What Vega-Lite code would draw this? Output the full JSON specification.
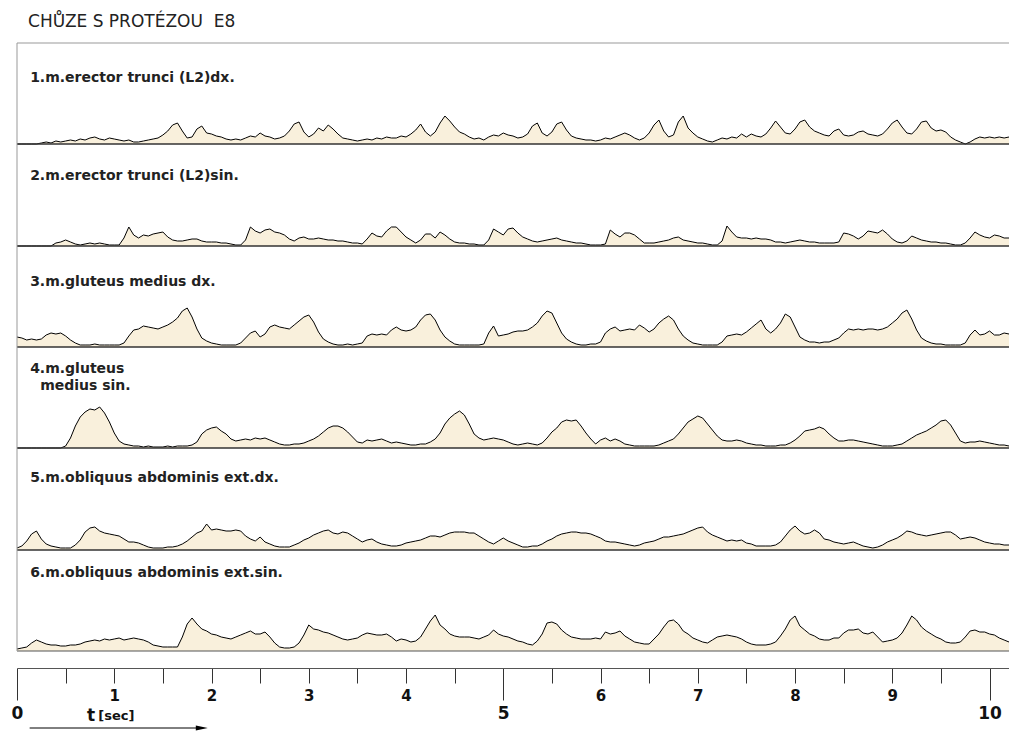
{
  "$schema": "https://vega.github.io/schema/vega-lite/v6.json",
  "background": "white",
  "padding": {"left": 11, "top": 12, "right": 0, "bottom": 0},
  "bounds": "flush",
  "title": {"text": "CHŮZE S PROTÉZOU\u00a0\u00a0E8", "anchor": "start", "dx": 17, "offset": -1, "baseline": "alphabetic", "font": "DejaVu Sans", "fontSize": 17, "fontWeight": "normal", "color": "#222"},
  "data": {"values": [
{"t":0,"a":0,"b":0,"c":10,"d":0,"e":2,"f":2},
{"t":0.05,"a":0,"b":0,"c":9,"d":0,"e":4,"f":3},
{"t":0.1,"a":0,"b":0,"c":7,"d":0,"e":9,"f":4},
{"t":0.15,"a":0,"b":0,"c":8,"d":0,"e":16,"f":8},
{"t":0.2,"a":0,"b":0,"c":7,"d":0,"e":19,"f":11},
{"t":0.25,"a":1,"b":0,"c":8,"d":0,"e":11,"f":9},
{"t":0.3,"a":2,"b":0,"c":12,"d":0,"e":6,"f":7},
{"t":0.35,"a":1,"b":0,"c":14,"d":0,"e":4,"f":6},
{"t":0.4,"a":3,"b":3,"c":13,"d":0,"e":3,"f":6},
{"t":0.45,"a":2,"b":4,"c":14,"d":0,"e":2,"f":5},
{"t":0.5,"a":3,"b":6,"c":11,"d":2,"e":2,"f":5},
{"t":0.55,"a":4,"b":4,"c":7,"d":10,"e":2,"f":6},
{"t":0.6,"a":3,"b":2,"c":4,"d":22,"e":5,"f":6},
{"t":0.65,"a":5,"b":1,"c":2,"d":31,"e":10,"f":7},
{"t":0.7,"a":4,"b":2,"c":2,"d":36,"e":18,"f":9},
{"t":0.75,"a":6,"b":3,"c":2,"d":39,"e":22,"f":10},
{"t":0.8,"a":7,"b":2,"c":3,"d":38,"e":23,"f":11},
{"t":0.85,"a":5,"b":3,"c":2,"d":41,"e":19,"f":10},
{"t":0.9,"a":4,"b":2,"c":2,"d":35,"e":17,"f":12},
{"t":0.95,"a":6,"b":1,"c":2,"d":26,"e":16,"f":11},
{"t":1,"a":5,"b":1,"c":2,"d":15,"e":15,"f":12},
{"t":1.05,"a":4,"b":1,"c":2,"d":7,"e":14,"f":13},
{"t":1.1,"a":3,"b":8,"c":4,"d":4,"e":11,"f":11},
{"t":1.15,"a":4,"b":19,"c":11,"d":3,"e":8,"f":12},
{"t":1.2,"a":2,"b":11,"c":17,"d":2,"e":8,"f":13},
{"t":1.25,"a":2,"b":8,"c":18,"d":2,"e":7,"f":12},
{"t":1.3,"a":3,"b":11,"c":21,"d":1,"e":5,"f":11},
{"t":1.35,"a":4,"b":10,"c":20,"d":2,"e":3,"f":9},
{"t":1.4,"a":5,"b":12,"c":19,"d":1,"e":2,"f":6},
{"t":1.45,"a":6,"b":13,"c":18,"d":1,"e":2,"f":5},
{"t":1.5,"a":9,"b":14,"c":20,"d":1,"e":2,"f":4},
{"t":1.55,"a":13,"b":9,"c":22,"d":2,"e":3,"f":4},
{"t":1.6,"a":19,"b":6,"c":25,"d":1,"e":3,"f":4},
{"t":1.65,"a":21,"b":5,"c":29,"d":2,"e":4,"f":4},
{"t":1.7,"a":13,"b":5,"c":36,"d":2,"e":6,"f":14},
{"t":1.75,"a":6,"b":6,"c":39,"d":2,"e":9,"f":27},
{"t":1.8,"a":7,"b":7,"c":30,"d":3,"e":13,"f":33},
{"t":1.85,"a":15,"b":7,"c":18,"d":6,"e":17,"f":27},
{"t":1.9,"a":18,"b":5,"c":9,"d":14,"e":19,"f":22},
{"t":1.95,"a":11,"b":4,"c":6,"d":18,"e":26,"f":20},
{"t":2,"a":10,"b":4,"c":4,"d":20,"e":20,"f":17},
{"t":2.05,"a":8,"b":4,"c":3,"d":21,"e":21,"f":16},
{"t":2.1,"a":7,"b":3,"c":2,"d":17,"e":20,"f":14},
{"t":2.15,"a":5,"b":3,"c":2,"d":14,"e":19,"f":13},
{"t":2.2,"a":4,"b":2,"c":2,"d":9,"e":19,"f":12},
{"t":2.25,"a":5,"b":1,"c":2,"d":7,"e":20,"f":14},
{"t":2.3,"a":4,"b":1,"c":4,"d":8,"e":19,"f":16},
{"t":2.35,"a":6,"b":6,"c":9,"d":9,"e":14,"f":18},
{"t":2.4,"a":8,"b":19,"c":14,"d":8,"e":11,"f":20},
{"t":2.45,"a":7,"b":15,"c":16,"d":10,"e":9,"f":17},
{"t":2.5,"a":11,"b":13,"c":10,"d":9,"e":13,"f":17},
{"t":2.55,"a":8,"b":16,"c":13,"d":10,"e":8,"f":19},
{"t":2.6,"a":7,"b":17,"c":20,"d":8,"e":6,"f":14},
{"t":2.65,"a":5,"b":14,"c":22,"d":6,"e":4,"f":8},
{"t":2.7,"a":6,"b":13,"c":20,"d":4,"e":3,"f":4},
{"t":2.75,"a":8,"b":11,"c":19,"d":3,"e":3,"f":3},
{"t":2.8,"a":13,"b":7,"c":18,"d":3,"e":3,"f":3},
{"t":2.85,"a":20,"b":5,"c":22,"d":4,"e":5,"f":4},
{"t":2.9,"a":22,"b":8,"c":26,"d":4,"e":7,"f":8},
{"t":2.95,"a":12,"b":9,"c":30,"d":5,"e":10,"f":16},
{"t":3,"a":7,"b":7,"c":32,"d":7,"e":12,"f":26},
{"t":3.05,"a":10,"b":7,"c":25,"d":9,"e":15,"f":22},
{"t":3.1,"a":16,"b":8,"c":15,"d":12,"e":17,"f":21},
{"t":3.15,"a":13,"b":7,"c":8,"d":16,"e":19,"f":19},
{"t":3.2,"a":19,"b":6,"c":5,"d":20,"e":20,"f":18},
{"t":3.25,"a":15,"b":6,"c":3,"d":22,"e":17,"f":16},
{"t":3.3,"a":10,"b":5,"c":2,"d":22,"e":16,"f":14},
{"t":3.35,"a":6,"b":5,"c":2,"d":20,"e":18,"f":12},
{"t":3.4,"a":5,"b":4,"c":3,"d":16,"e":17,"f":11},
{"t":3.45,"a":4,"b":3,"c":2,"d":11,"e":14,"f":12},
{"t":3.5,"a":3,"b":3,"c":3,"d":6,"e":11,"f":13},
{"t":3.55,"a":4,"b":2,"c":4,"d":5,"e":8,"f":16},
{"t":3.6,"a":5,"b":7,"c":11,"d":8,"e":10,"f":18},
{"t":3.65,"a":4,"b":13,"c":13,"d":7,"e":11,"f":17},
{"t":3.7,"a":6,"b":10,"c":12,"d":8,"e":8,"f":16},
{"t":3.75,"a":5,"b":9,"c":13,"d":9,"e":6,"f":16},
{"t":3.8,"a":7,"b":15,"c":12,"d":7,"e":5,"f":17},
{"t":3.85,"a":6,"b":19,"c":17,"d":5,"e":4,"f":14},
{"t":3.9,"a":6,"b":19,"c":20,"d":6,"e":4,"f":10},
{"t":3.95,"a":8,"b":14,"c":17,"d":5,"e":5,"f":12},
{"t":4,"a":7,"b":9,"c":16,"d":4,"e":7,"f":11},
{"t":4.05,"a":10,"b":6,"c":17,"d":3,"e":8,"f":9},
{"t":4.1,"a":14,"b":3,"c":20,"d":3,"e":9,"f":10},
{"t":4.15,"a":20,"b":6,"c":27,"d":4,"e":10,"f":14},
{"t":4.2,"a":12,"b":12,"c":32,"d":4,"e":12,"f":22},
{"t":4.25,"a":8,"b":12,"c":33,"d":6,"e":14,"f":30},
{"t":4.3,"a":12,"b":8,"c":27,"d":9,"e":14,"f":36},
{"t":4.35,"a":21,"b":14,"c":17,"d":15,"e":13,"f":26},
{"t":4.4,"a":28,"b":11,"c":10,"d":24,"e":15,"f":22},
{"t":4.45,"a":23,"b":7,"c":6,"d":30,"e":17,"f":17},
{"t":4.5,"a":17,"b":4,"c":3,"d":34,"e":18,"f":15},
{"t":4.55,"a":12,"b":3,"c":2,"d":37,"e":18,"f":14},
{"t":4.6,"a":10,"b":3,"c":2,"d":33,"e":18,"f":14},
{"t":4.65,"a":7,"b":2,"c":2,"d":24,"e":17,"f":14},
{"t":4.7,"a":5,"b":2,"c":2,"d":14,"e":17,"f":13},
{"t":4.75,"a":6,"b":1,"c":2,"d":10,"e":14,"f":12},
{"t":4.8,"a":4,"b":1,"c":3,"d":8,"e":11,"f":14},
{"t":4.85,"a":7,"b":6,"c":14,"d":9,"e":8,"f":16},
{"t":4.9,"a":9,"b":17,"c":21,"d":10,"e":6,"f":21},
{"t":4.95,"a":8,"b":14,"c":11,"d":9,"e":9,"f":17},
{"t":5,"a":11,"b":11,"c":12,"d":8,"e":12,"f":15},
{"t":5.05,"a":9,"b":17,"c":13,"d":6,"e":9,"f":14},
{"t":5.1,"a":8,"b":18,"c":15,"d":4,"e":7,"f":12},
{"t":5.15,"a":6,"b":13,"c":16,"d":3,"e":5,"f":10},
{"t":5.2,"a":7,"b":9,"c":16,"d":4,"e":3,"f":9},
{"t":5.25,"a":10,"b":7,"c":17,"d":5,"e":3,"f":7},
{"t":5.3,"a":18,"b":5,"c":20,"d":4,"e":4,"f":6},
{"t":5.35,"a":21,"b":4,"c":24,"d":3,"e":4,"f":10},
{"t":5.4,"a":11,"b":5,"c":31,"d":5,"e":6,"f":17},
{"t":5.45,"a":8,"b":6,"c":36,"d":10,"e":9,"f":28},
{"t":5.5,"a":12,"b":7,"c":34,"d":16,"e":11,"f":29},
{"t":5.55,"a":20,"b":8,"c":24,"d":20,"e":14,"f":27},
{"t":5.6,"a":22,"b":6,"c":14,"d":26,"e":16,"f":21},
{"t":5.65,"a":14,"b":5,"c":8,"d":28,"e":17,"f":17},
{"t":5.7,"a":8,"b":4,"c":5,"d":27,"e":18,"f":14},
{"t":5.75,"a":6,"b":3,"c":3,"d":28,"e":18,"f":13},
{"t":5.8,"a":5,"b":3,"c":2,"d":22,"e":17,"f":12},
{"t":5.85,"a":4,"b":2,"c":2,"d":15,"e":17,"f":12},
{"t":5.9,"a":4,"b":1,"c":3,"d":9,"e":16,"f":12},
{"t":5.95,"a":3,"b":1,"c":3,"d":4,"e":14,"f":13},
{"t":6,"a":4,"b":1,"c":5,"d":8,"e":12,"f":12},
{"t":6.05,"a":6,"b":2,"c":14,"d":10,"e":9,"f":19},
{"t":6.1,"a":5,"b":16,"c":18,"d":7,"e":8,"f":17},
{"t":6.15,"a":7,"b":12,"c":20,"d":9,"e":8,"f":18},
{"t":6.2,"a":9,"b":9,"c":16,"d":7,"e":7,"f":20},
{"t":6.25,"a":11,"b":13,"c":17,"d":4,"e":6,"f":15},
{"t":6.3,"a":9,"b":13,"c":18,"d":3,"e":5,"f":12},
{"t":6.35,"a":6,"b":11,"c":17,"d":2,"e":4,"f":9},
{"t":6.4,"a":4,"b":7,"c":22,"d":2,"e":5,"f":8},
{"t":6.45,"a":6,"b":3,"c":19,"d":2,"e":7,"f":7},
{"t":6.5,"a":11,"b":3,"c":15,"d":2,"e":8,"f":7},
{"t":6.55,"a":19,"b":3,"c":18,"d":2,"e":9,"f":12},
{"t":6.6,"a":24,"b":4,"c":24,"d":3,"e":11,"f":17},
{"t":6.65,"a":13,"b":5,"c":28,"d":5,"e":13,"f":24},
{"t":6.7,"a":7,"b":6,"c":31,"d":7,"e":13,"f":30},
{"t":6.75,"a":9,"b":8,"c":27,"d":9,"e":14,"f":31},
{"t":6.8,"a":22,"b":9,"c":18,"d":14,"e":15,"f":27},
{"t":6.85,"a":28,"b":6,"c":11,"d":20,"e":16,"f":20},
{"t":6.9,"a":16,"b":5,"c":7,"d":26,"e":18,"f":17},
{"t":6.95,"a":11,"b":4,"c":4,"d":29,"e":20,"f":13},
{"t":7,"a":7,"b":3,"c":3,"d":32,"e":22,"f":11},
{"t":7.05,"a":5,"b":3,"c":2,"d":30,"e":23,"f":9},
{"t":7.1,"a":3,"b":2,"c":2,"d":24,"e":18,"f":8},
{"t":7.15,"a":2,"b":1,"c":2,"d":18,"e":15,"f":11},
{"t":7.2,"a":4,"b":1,"c":2,"d":12,"e":13,"f":14},
{"t":7.25,"a":6,"b":5,"c":5,"d":8,"e":11,"f":15},
{"t":7.3,"a":5,"b":20,"c":11,"d":7,"e":9,"f":16},
{"t":7.35,"a":7,"b":14,"c":12,"d":7,"e":10,"f":15},
{"t":7.4,"a":6,"b":9,"c":13,"d":8,"e":9,"f":14},
{"t":7.45,"a":10,"b":8,"c":12,"d":7,"e":10,"f":12},
{"t":7.5,"a":7,"b":8,"c":15,"d":5,"e":7,"f":9},
{"t":7.55,"a":10,"b":7,"c":19,"d":4,"e":6,"f":7},
{"t":7.6,"a":8,"b":8,"c":23,"d":3,"e":4,"f":6},
{"t":7.65,"a":7,"b":7,"c":27,"d":3,"e":4,"f":6},
{"t":7.7,"a":10,"b":7,"c":18,"d":2,"e":4,"f":6},
{"t":7.75,"a":16,"b":6,"c":14,"d":2,"e":4,"f":7},
{"t":7.8,"a":23,"b":4,"c":18,"d":2,"e":5,"f":9},
{"t":7.85,"a":17,"b":4,"c":24,"d":3,"e":8,"f":15},
{"t":7.9,"a":11,"b":3,"c":33,"d":3,"e":14,"f":22},
{"t":7.95,"a":10,"b":4,"c":30,"d":5,"e":20,"f":31},
{"t":8,"a":15,"b":5,"c":20,"d":8,"e":24,"f":35},
{"t":8.05,"a":22,"b":6,"c":10,"d":12,"e":19,"f":25},
{"t":8.1,"a":24,"b":5,"c":7,"d":17,"e":16,"f":21},
{"t":8.15,"a":17,"b":4,"c":5,"d":18,"e":17,"f":17},
{"t":8.2,"a":13,"b":4,"c":5,"d":19,"e":20,"f":15},
{"t":8.25,"a":11,"b":3,"c":4,"d":21,"e":17,"f":12},
{"t":8.3,"a":9,"b":3,"c":5,"d":19,"e":11,"f":11},
{"t":8.35,"a":8,"b":3,"c":5,"d":14,"e":10,"f":11},
{"t":8.4,"a":13,"b":3,"c":7,"d":10,"e":8,"f":13},
{"t":8.45,"a":15,"b":4,"c":9,"d":7,"e":7,"f":13},
{"t":8.5,"a":9,"b":13,"c":14,"d":7,"e":6,"f":18},
{"t":8.55,"a":8,"b":12,"c":18,"d":8,"e":7,"f":21},
{"t":8.6,"a":9,"b":10,"c":17,"d":8,"e":8,"f":21},
{"t":8.65,"a":12,"b":7,"c":18,"d":7,"e":6,"f":22},
{"t":8.7,"a":13,"b":10,"c":17,"d":6,"e":4,"f":18},
{"t":8.75,"a":10,"b":15,"c":18,"d":5,"e":3,"f":17},
{"t":8.8,"a":9,"b":14,"c":18,"d":4,"e":2,"f":19},
{"t":8.85,"a":8,"b":13,"c":17,"d":3,"e":3,"f":14},
{"t":8.9,"a":10,"b":16,"c":18,"d":2,"e":5,"f":9},
{"t":8.95,"a":15,"b":12,"c":20,"d":2,"e":8,"f":10},
{"t":9,"a":21,"b":7,"c":24,"d":2,"e":10,"f":11},
{"t":9.05,"a":24,"b":4,"c":28,"d":3,"e":12,"f":13},
{"t":9.1,"a":17,"b":3,"c":34,"d":4,"e":15,"f":18},
{"t":9.15,"a":11,"b":5,"c":37,"d":7,"e":19,"f":26},
{"t":9.2,"a":10,"b":10,"c":28,"d":10,"e":18,"f":35},
{"t":9.25,"a":15,"b":8,"c":17,"d":13,"e":16,"f":31},
{"t":9.3,"a":22,"b":6,"c":9,"d":15,"e":15,"f":24},
{"t":9.35,"a":23,"b":5,"c":6,"d":17,"e":14,"f":20},
{"t":9.4,"a":16,"b":4,"c":4,"d":20,"e":15,"f":17},
{"t":9.45,"a":13,"b":4,"c":3,"d":23,"e":16,"f":14},
{"t":9.5,"a":14,"b":3,"c":3,"d":27,"e":17,"f":12},
{"t":9.55,"a":12,"b":3,"c":2,"d":28,"e":18,"f":9},
{"t":9.6,"a":7,"b":2,"c":2,"d":23,"e":18,"f":8},
{"t":9.65,"a":4,"b":1,"c":2,"d":15,"e":15,"f":8},
{"t":9.7,"a":2,"b":1,"c":2,"d":7,"e":11,"f":9},
{"t":9.75,"a":0,"b":3,"c":4,"d":5,"e":12,"f":14},
{"t":9.8,"a":2,"b":8,"c":12,"d":6,"e":13,"f":20},
{"t":9.85,"a":5,"b":14,"c":17,"d":6,"e":12,"f":21},
{"t":9.9,"a":7,"b":11,"c":12,"d":7,"e":10,"f":19},
{"t":9.95,"a":6,"b":9,"c":13,"d":6,"e":8,"f":19},
{"t":10,"a":7,"b":8,"c":16,"d":5,"e":7,"f":17},
{"t":10.05,"a":6,"b":11,"c":12,"d":4,"e":6,"f":16},
{"t":10.1,"a":7,"b":10,"c":12,"d":3,"e":6,"f":13},
{"t":10.15,"a":6,"b":8,"c":14,"d":3,"e":5,"f":11},
{"t":10.2,"a":7,"b":8,"c":13,"d":2,"e":5,"f":9}
  ]},
  "spacing": 0,
  "resolve": {"scale": {"y": "independent"}},
  "vconcat": [
    {
      "width": 992, "height": 101,
      "layer": [
        {"mark": {"type": "area", "color": "#f9f0dc"}, "encoding": {"x": {"field": "t", "type": "quantitative", "scale": {"domain": [0, 10.2], "nice": false, "zero": false}, "axis": null}, "y": {"field": "a", "type": "quantitative", "scale": {"domain": [0, 101], "nice": false}, "axis": null}}},
        {"mark": {"type": "line", "color": "#000", "strokeWidth": 1}, "encoding": {"x": {"field": "t", "type": "quantitative", "axis": null}, "y": {"field": "a", "type": "quantitative", "axis": null}}},
        {"data": {"values": [{"k": 1}]}, "mark": {"type": "rule", "color": "#333", "strokeWidth": 1.5}, "encoding": {"y": {"datum": 0, "axis": null}}},
        {"data": {"values": [{"k": 1}]}, "mark": {"type": "rule", "color": "#999", "strokeWidth": 1}, "encoding": {"y": {"datum": 101, "axis": null}}},
        {"data": {"values": [{"k": 1}]}, "mark": {"type": "rule", "color": "#999", "strokeWidth": 1}, "encoding": {"x": {"datum": 0, "axis": null}}},
        {"data": {"values": [{"label": "1.m.erector trunci (L2)dx."}]}, "mark": {"type": "text", "align": "left", "baseline": "alphabetic", "font": "DejaVu Sans", "fontWeight": "bold", "fontSize": 14, "color": "#222"}, "encoding": {"x": {"datum": 0.135, "axis": null}, "y": {"datum": 62, "axis": null}, "text": {"field": "label"}}}
      ]
    },
    {
      "width": 992, "height": 102,
      "layer": [
        {"mark": {"type": "area", "color": "#f9f0dc"}, "encoding": {"x": {"field": "t", "type": "quantitative", "scale": {"domain": [0, 10.2], "nice": false, "zero": false}, "axis": null}, "y": {"field": "b", "type": "quantitative", "scale": {"domain": [0, 102], "nice": false}, "axis": null}}},
        {"mark": {"type": "line", "color": "#000", "strokeWidth": 1}, "encoding": {"x": {"field": "t", "type": "quantitative", "axis": null}, "y": {"field": "b", "type": "quantitative", "axis": null}}},
        {"data": {"values": [{"k": 1}]}, "mark": {"type": "rule", "color": "#333", "strokeWidth": 1.5}, "encoding": {"y": {"datum": 0, "axis": null}}},
        {"data": {"values": [{"k": 1}]}, "mark": {"type": "rule", "color": "#999", "strokeWidth": 1}, "encoding": {"x": {"datum": 0, "axis": null}}},
        {"data": {"values": [{"label": "2.m.erector trunci (L2)sin."}]}, "mark": {"type": "text", "align": "left", "baseline": "alphabetic", "font": "DejaVu Sans", "fontWeight": "bold", "fontSize": 14, "color": "#222"}, "encoding": {"x": {"datum": 0.135, "axis": null}, "y": {"datum": 66, "axis": null}, "text": {"field": "label"}}}
      ]
    },
    {
      "width": 992, "height": 101,
      "layer": [
        {"mark": {"type": "area", "color": "#f9f0dc"}, "encoding": {"x": {"field": "t", "type": "quantitative", "scale": {"domain": [0, 10.2], "nice": false, "zero": false}, "axis": null}, "y": {"field": "c", "type": "quantitative", "scale": {"domain": [0, 101], "nice": false}, "axis": null}}},
        {"mark": {"type": "line", "color": "#000", "strokeWidth": 1}, "encoding": {"x": {"field": "t", "type": "quantitative", "axis": null}, "y": {"field": "c", "type": "quantitative", "axis": null}}},
        {"data": {"values": [{"k": 1}]}, "mark": {"type": "rule", "color": "#333", "strokeWidth": 1.5}, "encoding": {"y": {"datum": 0, "axis": null}}},
        {"data": {"values": [{"k": 1}]}, "mark": {"type": "rule", "color": "#999", "strokeWidth": 1}, "encoding": {"x": {"datum": 0, "axis": null}}},
        {"data": {"values": [{"label": "3.m.gluteus medius dx."}]}, "mark": {"type": "text", "align": "left", "baseline": "alphabetic", "font": "DejaVu Sans", "fontWeight": "bold", "fontSize": 14, "color": "#222"}, "encoding": {"x": {"datum": 0.135, "axis": null}, "y": {"datum": 61, "axis": null}, "text": {"field": "label"}}}
      ]
    },
    {
      "width": 992, "height": 101,
      "layer": [
        {"mark": {"type": "area", "color": "#f9f0dc"}, "encoding": {"x": {"field": "t", "type": "quantitative", "scale": {"domain": [0, 10.2], "nice": false, "zero": false}, "axis": null}, "y": {"field": "d", "type": "quantitative", "scale": {"domain": [0, 101], "nice": false}, "axis": null}}},
        {"mark": {"type": "line", "color": "#000", "strokeWidth": 1}, "encoding": {"x": {"field": "t", "type": "quantitative", "axis": null}, "y": {"field": "d", "type": "quantitative", "axis": null}}},
        {"data": {"values": [{"k": 1}]}, "mark": {"type": "rule", "color": "#333", "strokeWidth": 1.5}, "encoding": {"y": {"datum": 0, "axis": null}}},
        {"data": {"values": [{"k": 1}]}, "mark": {"type": "rule", "color": "#999", "strokeWidth": 1}, "encoding": {"x": {"datum": 0, "axis": null}}},
        {"data": {"values": [{"label": "4.m.gluteus"}]}, "mark": {"type": "text", "align": "left", "baseline": "alphabetic", "font": "DejaVu Sans", "fontWeight": "bold", "fontSize": 14, "color": "#222"}, "encoding": {"x": {"datum": 0.135, "axis": null}, "y": {"datum": 75, "axis": null}, "text": {"field": "label"}}},
        {"data": {"values": [{"label": "medius sin."}]}, "mark": {"type": "text", "align": "left", "baseline": "alphabetic", "dx": 10, "font": "DejaVu Sans", "fontWeight": "bold", "fontSize": 14, "color": "#222"}, "encoding": {"x": {"datum": 0.135, "axis": null}, "y": {"datum": 58, "axis": null}, "text": {"field": "label"}}}
      ]
    },
    {
      "width": 992, "height": 102,
      "layer": [
        {"mark": {"type": "area", "color": "#f9f0dc"}, "encoding": {"x": {"field": "t", "type": "quantitative", "scale": {"domain": [0, 10.2], "nice": false, "zero": false}, "axis": null}, "y": {"field": "e", "type": "quantitative", "scale": {"domain": [0, 102], "nice": false}, "axis": null}}},
        {"mark": {"type": "line", "color": "#000", "strokeWidth": 1}, "encoding": {"x": {"field": "t", "type": "quantitative", "axis": null}, "y": {"field": "e", "type": "quantitative", "axis": null}}},
        {"data": {"values": [{"k": 1}]}, "mark": {"type": "rule", "color": "#333", "strokeWidth": 1.5}, "encoding": {"y": {"datum": 0, "axis": null}}},
        {"data": {"values": [{"k": 1}]}, "mark": {"type": "rule", "color": "#999", "strokeWidth": 1}, "encoding": {"x": {"datum": 0, "axis": null}}},
        {"data": {"values": [{"label": "5.m.obliquus abdominis ext.dx."}]}, "mark": {"type": "text", "align": "left", "baseline": "alphabetic", "font": "DejaVu Sans", "fontWeight": "bold", "fontSize": 14, "color": "#222"}, "encoding": {"x": {"datum": 0.135, "axis": null}, "y": {"datum": 68, "axis": null}, "text": {"field": "label"}}}
      ]
    },
    {
      "width": 992, "height": 101,
      "layer": [
        {"mark": {"type": "area", "color": "#f9f0dc"}, "encoding": {
          "x": {"field": "t", "type": "quantitative", "scale": {"domain": [0, 10.2], "nice": false, "zero": false},
            "axis": {
              "title": null, "grid": false, "offset": 17,
              "values": [0,0.5,1,1.5,2,2.5,3,3.5,4,4.5,5,5.5,6,6.5,7,7.5,8,8.5,9,9.5,10],
              "labelExpr": "datum.value % 1 === 0 ? format(datum.value, 'd') : ''",
              "labelOverlap": false, "labelFlush": false, "labelBound": false,
              "domainColor": "#555", "domainWidth": 1,
              "tickColor": "#333", "tickWidth": 1,
              "tickSize": {"condition": {"test": "datum.value % 5 === 0", "value": 32}, "value": 15},
              "labelFont": "DejaVu Sans", "labelFontWeight": "bold", "labelColor": "#111",
              "labelFontSize": {"condition": {"test": "datum.value % 5 === 0", "value": 17}, "value": 15},
              "labelBaseline": "top", "labelPadding": 5
            }},
          "y": {"field": "f", "type": "quantitative", "scale": {"domain": [0, 101], "nice": false}, "axis": null}}},
        {"mark": {"type": "line", "color": "#000", "strokeWidth": 1}, "encoding": {"x": {"field": "t", "type": "quantitative"}, "y": {"field": "f", "type": "quantitative", "axis": null}}},
        {"data": {"values": [{"k": 1}]}, "mark": {"type": "rule", "color": "#555", "strokeWidth": 1.2}, "encoding": {"y": {"datum": 0, "axis": null}}},
        {"data": {"values": [{"k": 1}]}, "mark": {"type": "rule", "color": "#999", "strokeWidth": 1}, "encoding": {"x": {"datum": 0}}},
        {"data": {"values": [{"label": "6.m.obliquus abdominis ext.sin."}]}, "mark": {"type": "text", "align": "left", "baseline": "alphabetic", "font": "DejaVu Sans", "fontWeight": "bold", "fontSize": 14, "color": "#222"}, "encoding": {"x": {"datum": 0.135}, "y": {"datum": 74, "axis": null}, "text": {"field": "label"}}},
        {"data": {"values": [{"s": "t"}]}, "mark": {"type": "text", "align": "left", "baseline": "alphabetic", "font": "DejaVu Sans", "fontWeight": "bold", "fontSize": 17, "color": "#111"}, "encoding": {"x": {"datum": 0.72}, "y": {"datum": -70, "axis": null}, "text": {"field": "s"}}},
        {"data": {"values": [{"s": "[sec]"}]}, "mark": {"type": "text", "align": "left", "baseline": "alphabetic", "font": "DejaVu Sans", "fontWeight": "bold", "fontSize": 13, "color": "#111"}, "encoding": {"x": {"datum": 0.835}, "y": {"datum": -69, "axis": null}, "text": {"field": "s"}}},
        {"data": {"values": [{"x1": 0.13, "x2": 1.9, "y": -77}]}, "mark": {"type": "rule", "color": "#000", "strokeWidth": 1}, "encoding": {"x": {"field": "x1", "type": "quantitative"}, "x2": {"field": "x2"}, "y": {"field": "y", "type": "quantitative", "axis": null}}},
        {"data": {"values": [{"x": 1.9, "y": -77}]}, "mark": {"type": "point", "shape": "M-1,-0.4L1,0L-1,0.4Z", "size": 144, "filled": true, "color": "#000", "opacity": 1}, "encoding": {"x": {"field": "x", "type": "quantitative"}, "y": {"field": "y", "type": "quantitative", "axis": null}}}
      ]
    }
  ],
  "config": {"view": {"stroke": null}, "concat": {"spacing": 0}}
}
